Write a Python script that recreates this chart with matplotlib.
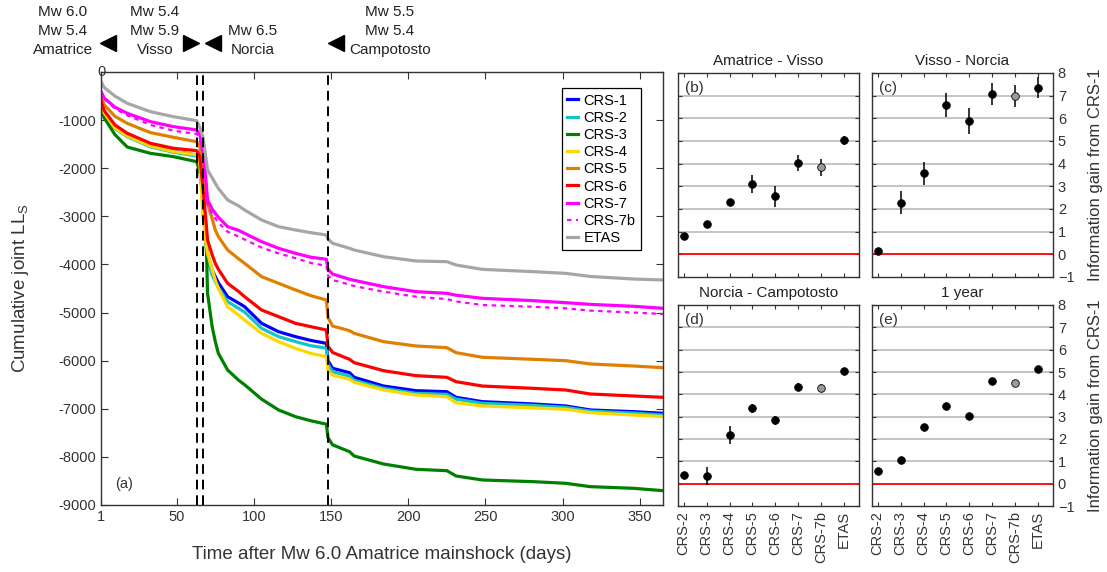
import matplotlib
matplotlib.use("Agg")
import matplotlib.pyplot as plt
from matplotlib.lines import Line2D

plt.rcParams['font.family'] = ['Liberation Sans', 'DejaVu Sans']

# ---------------- cumulative log-likelihood curves ----------------
days = [1, 3, 10, 18, 33, 48, 63, 65, 67, 69, 70, 73, 75, 77, 83, 90, 94, 105,
        116, 127, 137, 147, 148, 151, 162, 165, 184, 205, 225, 231, 248, 281,
        302, 318, 346, 365]

crs1 = [-650, -850, -1160, -1330, -1537, -1650, -1725, -1850, -2700, -3500, -3800,
        -4115, -4250, -4380, -4670, -4800, -4878, -5224, -5398, -5501, -5580, -5640,
        -6000, -6159, -6250, -6346, -6527, -6624, -6645, -6762, -6852, -6900, -6942,
        -7025, -7060, -7094]
crs2 = [-650, -860, -1170, -1345, -1555, -1670, -1745, -1880, -2800, -3600, -3900,
        -4220, -4360, -4480, -4774, -4910, -4990, -5328, -5500, -5605, -5690, -5740,
        -6080, -6229, -6320, -6410, -6575, -6680, -6700, -6800, -6886, -6930, -6970,
        -7050, -7090, -7129]
crs3 = [-700, -950, -1300, -1560, -1690, -1760, -1864, -2100, -2522, -3300, -4600,
        -5294, -5600, -5847, -6194, -6402, -6500, -6800, -7025, -7164, -7250, -7320,
        -7600, -7750, -7892, -7982, -8148, -8258, -8287, -8397, -8480, -8515, -8549,
        -8619, -8653, -8702]
crs4 = [-650, -850, -1160, -1330, -1540, -1655, -1720, -1900, -3000, -3550, -3769,
        -4100, -4323, -4500, -4878, -5050, -5155, -5432, -5605, -5744, -5850, -5917,
        -6200, -6298, -6388, -6450, -6610, -6714, -6750, -6873, -6942, -6980, -7011,
        -7081, -7130, -7164]
crs5 = [-500, -680, -920, -1067, -1260, -1358, -1449, -1550, -2000, -2500, -2730,
        -3050, -3284, -3420, -3700, -3880, -3977, -4254, -4392, -4531, -4650, -4739,
        -5100, -5280, -5377, -5432, -5605, -5695, -5730, -5834, -5930, -5972, -6000,
        -6069, -6111, -6146]
crs6 = [-600, -800, -1100, -1274, -1482, -1586, -1635, -1760, -2400, -3100, -3492,
        -3800, -3977, -4100, -4392, -4560, -4670, -4947, -5085, -5224, -5294, -5363,
        -5700, -5830, -5972, -6042, -6208, -6312, -6346, -6437, -6527, -6575, -6610,
        -6693, -6734, -6762]
crs7 = [-400, -540, -730, -859, -1032, -1136, -1205, -1300, -1650, -2245, -2660,
        -2850, -2937, -3020, -3215, -3290, -3353, -3527, -3665, -3769, -3850, -3893,
        -4100, -4200, -4309, -4330, -4462, -4566, -4600, -4640, -4704, -4753, -4795,
        -4830, -4870, -4912]
crs7b = [-400, -550, -760, -900, -1100, -1220, -1289, -1380, -1750, -2350, -2750,
         -2950, -3040, -3130, -3320, -3420, -3480, -3650, -3770, -3870, -3970, -4030,
         -4230, -4323, -4420, -4450, -4566, -4670, -4720, -4770, -4843, -4880, -4912,
         -4960, -5000, -5030]
etas = [-200, -320, -500, -651, -825, -929, -1012, -1150, -1345, -1800, -2037,
        -2200, -2314, -2420, -2660, -2780, -2868, -3076, -3215, -3284, -3340, -3388,
        -3470, -3560, -3665, -3700, -3839, -3928, -3942, -4012, -4102, -4150, -4185,
        -4250, -4303, -4323]

event_days = [63, 67, 148]

# ---------------- information gain panels ----------------
models = ['CRS-2', 'CRS-3', 'CRS-4', 'CRS-5', 'CRS-6', 'CRS-7', 'CRS-7b', 'ETAS']
panel_titles = ['Amatrice - Visso', 'Visso - Norcia', 'Norcia - Campotosto', '1 year']
panel_tags = ['(b)', '(c)', '(d)', '(e)']

gain_b = [0.80, 1.32, 2.31, 3.11, 2.56, 4.03, 3.84, 5.04]
err_b = [0.05, 0.12, 0.12, 0.40, 0.45, 0.36, 0.37, 0.20]
gain_c = [0.15, 2.28, 3.57, 6.59, 5.87, 7.07, 6.99, 7.36]
err_c = [0.05, 0.52, 0.52, 0.52, 0.57, 0.50, 0.49, 0.46]
gain_d = [0.40, 0.34, 2.18, 3.37, 2.83, 4.35, 4.28, 5.05]
err_d = [0.06, 0.42, 0.40, 0.20, 0.22, 0.17, 0.18, 0.06]
gain_e = [0.55, 1.07, 2.53, 3.46, 3.01, 4.58, 4.52, 5.13]
err_e = [0.05, 0.07, 0.07, 0.07, 0.07, 0.05, 0.05, 0.05]

W, H = 1107, 572
fig = plt.figure(figsize=(W / 100, H / 100), dpi=100)


def fx(px):
    return px / W


def fy(py):
    return 1 - py / H


spine_col = '#333333'

# ---------------- panel (a) ----------------
ax = fig.add_axes([fx(101), fy(505), fx(663) - fx(101), fy(72) - fy(505)])
series = [
    ('CRS-1', crs1, '#0000ff', '-'),
    ('CRS-2', crs2, '#14c4c4', '-'),
    ('CRS-3', crs3, '#008000', '-'),
    ('CRS-4', crs4, '#ffd700', '-'),
    ('CRS-5', crs5, '#e08000', '-'),
    ('CRS-6', crs6, '#ff0000', '-'),
    ('CRS-7', crs7, '#ff00ff', '-'),
    ('CRS-7b', crs7b, '#ff00ff', (0, (2, 2))),
    ('ETAS', etas, '#a6a6a6', '-'),
]
for name, vals, col, ls in series:
    lw = 1.6 if name == 'CRS-7b' else 2.3
    ax.plot(days, vals, color=col, ls=ls, lw=lw, label=name, solid_joinstyle='round')

for d in event_days:
    ax.axvline(d, color='black', ls=(0, (5, 3)), lw=1.4)

ax.set_xlim(1, 365)
ax.set_ylim(-9000, 0)
ax.set_xticks([1, 50, 100, 150, 200, 250, 300, 350])
yt = list(range(-9000, 1, 1000))
ax.set_yticks(yt)
ax.set_yticklabels([str(v) if v != 0 else '' for v in yt])
ax.text(1, 0, '0', ha='center', va='center', fontsize=10.5, color='#333333')
ax.tick_params(direction='in', top=True, right=True, labelsize=10.5,
               colors=spine_col, length=5)
for sp in ax.spines.values():
    sp.set_color(spine_col)
    sp.set_linewidth(1.0)
ax.set_xlabel('Time after Mw 6.0 Amatrice mainshock (days)', fontsize=13.5,
              color='#333333', labelpad=16)
ax.set_ylabel('Cumulative joint LL$_\\mathregular{S}$', fontsize=13.5,
              color='#333333', labelpad=20)
ax.text(0.025, 0.04, '(a)', transform=ax.transAxes, fontsize=10.5, color='#333333')

leg = ax.legend(loc='upper right', bbox_to_anchor=(0.96, 0.962), fontsize=10.5,
                handlelength=0.7, handletextpad=0.4, borderpad=0.35,
                labelspacing=0.22, borderaxespad=0, fancybox=False,
                framealpha=1, edgecolor='black')
leg.get_frame().set_linewidth(0.9)

# ---------------- event annotations ----------------
def block(lines, cx, ys):
    for t, y in zip(lines, ys):
        fig.text(fx(cx), fy(y), t, ha='center', va='center', fontsize=11,
                 color='#222222')


block(['Mw 6.0', 'Mw 5.4', 'Amatrice'], 63, [12, 31, 50])
block(['Mw 5.4', 'Mw 5.9', 'Visso'], 155, [12, 31, 50])
block(['Mw 6.5', 'Norcia'], 253, [31, 50])
block(['Mw 5.5', 'Mw 5.4', 'Campotosto'], 390, [12, 31, 50])
for px, mk in [(108, '<'), (191, '>'), (213, '<'), (336, '<')]:
    fig.add_artist(Line2D([fx(px)], [fy(43)], marker=mk, markersize=11,
                          color='black', transform=fig.transFigure, lw=0))

# ---------------- panels (b)-(e) ----------------
gains = [gain_b, gain_c, gain_d, gain_e]
errs = [err_b, err_c, err_d, err_e]
lefts = [678, 872, 678, 872]
tops = [73, 73, 305, 305]
bottoms = [277, 277, 506, 506]
xs = list(range(1, len(models) + 1))
for i in range(4):
    pa = fig.add_axes([fx(lefts[i]), fy(bottoms[i]), 181 / W,
                       fy(tops[i]) - fy(bottoms[i])])
    for g in range(1, 9):
        pa.axhline(g, color='#b4b4b4', lw=1.1, zorder=1)
    pa.axhline(0, color='#ff0000', lw=1.3, zorder=2)
    for j, m in enumerate(models):
        fc = '#9a9a9a' if m == 'CRS-7b' else 'black'
        pa.errorbar(xs[j], gains[i][j], yerr=errs[i][j], fmt='o', ms=5.5,
                    mfc=fc, mec='black', mew=0.6, ecolor='black', elinewidth=1.1,
                    capsize=0, zorder=3)
    pa.set_xlim(0.75, 8.65)
    pa.set_ylim(-1, 8)
    pa.set_xticks(xs)
    pa.set_yticks(range(-1, 9))
    pa.tick_params(direction='in', top=True, right=True, left=True, length=3,
                   colors=spine_col, labelsize=10.5, labelleft=False,
                   labelright=(i % 2 == 1), labelbottom=(i >= 2))
    if i >= 2:
        pa.set_xticklabels(models, rotation=90)
    for sp in pa.spines.values():
        sp.set_color(spine_col)
        sp.set_linewidth(1.0)
    pa.set_title(panel_titles[i], fontsize=11, color='#222222', pad=6)
    pa.text(0.04, 0.96, panel_tags[i], transform=pa.transAxes, fontsize=11,
            va='top', color='#333333')
    if i % 2 == 1:
        pa.yaxis.set_label_position('right')
        pa.set_ylabel('Information gain from CRS-1', fontsize=12, color='#333333',
                      labelpad=10)

fig.savefig('out.png', dpi=100)
